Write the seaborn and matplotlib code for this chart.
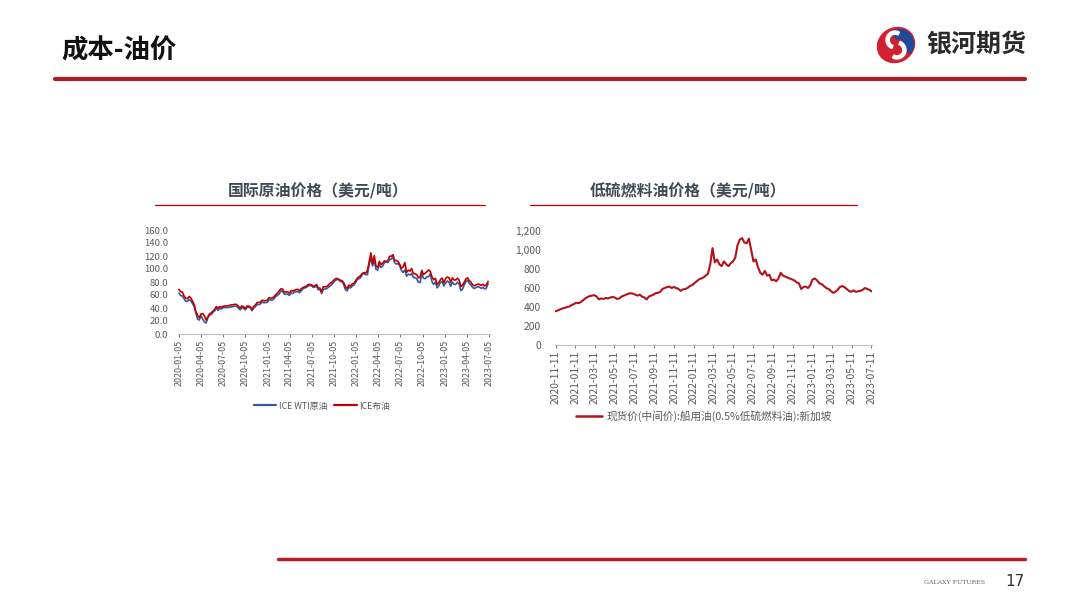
import numpy as np
import pandas as pd
import matplotlib
matplotlib.use("Agg")
import matplotlib.pyplot as plt
import seaborn as sns
from matplotlib.lines import Line2D
from matplotlib.patches import Circle, Wedge, Ellipse
from matplotlib.ticker import FuncFormatter

# ---------------- data ----------------
crude_start = "2020-01-05"
brent = [
    68.6, 65.0, 64.6, 58.3, 55.0, 54.5, 57.7, 55.5, 50.5, 45.3, 33.9, 28.5, 25.0,
    31.0, 31.5, 27.8, 21.4, 26.4, 30.9, 32.5, 35.1, 37.8, 42.3, 39.7, 42.2, 41.0,
    42.8, 43.2, 43.3, 43.3, 44.4, 44.8, 45.0, 45.8, 45.3, 42.7, 39.8, 43.2, 42.0,
    39.3, 42.9, 42.9, 41.8, 37.5, 42.4, 44.8, 48.2, 48.6, 49.3, 52.0, 51.2, 51.3,
    51.8, 55.9, 55.1, 55.4, 57.5, 60.6, 62.9, 66.1, 69.4, 69.2, 64.5, 64.6, 64.9,
    62.9, 66.8, 66.1, 67.3, 68.3, 68.7, 66.4, 69.6, 71.4, 72.7, 73.5, 76.2, 76.2,
    75.6, 73.6, 74.1, 76.3, 70.7, 70.6, 65.2, 72.7, 72.6, 72.9, 75.3, 78.1, 79.3,
    82.4, 84.9, 85.5, 84.4, 82.7, 82.2, 78.9, 72.9, 69.9, 75.2, 73.5, 76.9, 77.8,
    81.8, 86.1, 87.9, 90.0, 93.3, 94.4, 93.5, 97.9, 111.0, 125.0, 107.9, 120.7, 104.4,
    102.8, 111.7, 106.7, 109.3, 112.4, 111.6, 112.6, 119.4, 119.7, 122.0, 113.1, 113.1, 111.6,
    107.0, 101.2, 103.2, 110.0, 94.9, 98.2, 96.7, 100.9, 93.0, 92.8, 91.4, 86.2, 87.9,
    97.9, 91.6, 93.5, 95.8, 98.6, 96.0, 87.6, 83.6, 85.6, 76.1, 79.0, 83.9, 85.9,
    78.6, 85.3, 87.6, 86.7, 79.9, 86.4, 83.0, 83.2, 85.8, 82.8, 73.0, 75.0, 79.8,
    85.0, 86.3, 81.7, 79.5, 75.3, 74.2, 75.6, 76.9, 76.1, 74.8, 76.6, 73.9, 75.4, 81.0,
]
wti = [
    63.0, 59.0, 58.5, 54.2, 50.3, 50.3, 53.2, 50.8, 46.8, 41.6, 31.7, 22.6, 21.5,
    28.3, 22.8, 18.3, 17.0, 24.7, 29.4, 29.8, 33.3, 35.4, 39.6, 36.3, 39.8, 38.5,
    40.6, 40.6, 40.6, 40.9, 41.2, 41.8, 42.3, 42.9, 42.5, 39.8, 37.2, 40.3, 39.9,
    37.0, 40.6, 40.9, 40.9, 35.8, 40.1, 42.0, 45.5, 45.2, 46.3, 49.1, 48.1, 48.5,
    48.5, 52.4, 52.3, 52.2, 54.4, 57.9, 59.5, 61.5, 66.1, 65.6, 61.4, 61.0, 61.5,
    59.3, 63.1, 62.1, 64.5, 64.9, 65.4, 63.6, 66.3, 69.6, 70.9, 71.6, 73.9, 74.6,
    74.5, 71.8, 72.1, 73.9, 68.1, 68.4, 62.3, 68.7, 69.3, 69.7, 71.9, 73.9, 75.9,
    79.4, 82.3, 83.8, 83.6, 80.8, 80.8, 76.1, 68.2, 66.3, 71.7, 70.9, 73.8, 75.2,
    78.9, 83.8, 85.1, 86.8, 92.3, 93.1, 91.1, 91.6, 107.7, 115.7, 104.7, 113.9, 99.3,
    98.3, 106.9, 102.1, 104.7, 109.8, 110.5, 110.3, 114.1, 115.3, 118.9, 109.6, 107.6, 108.4,
    104.8, 97.6, 94.7, 98.6, 89.0, 92.1, 90.8, 93.1, 86.9, 86.8, 85.1, 79.5, 79.4,
    92.6, 85.6, 85.1, 87.9, 88.4, 92.6, 80.1, 76.3, 80.0, 71.0, 74.3, 79.6, 80.3,
    73.8, 78.4, 81.6, 79.7, 73.4, 80.0, 76.3, 76.3, 79.7, 76.7, 66.7, 69.3, 75.7,
    80.7, 82.5, 77.9, 74.8, 71.3, 70.0, 71.7, 72.7, 72.0, 70.2, 71.8, 69.2, 70.6, 77.5,
]
crude_ticks = ["2020-01-05", "2020-04-05", "2020-07-05", "2020-10-05", "2021-01-05",
               "2021-04-05", "2021-07-05", "2021-10-05", "2022-01-05", "2022-04-05",
               "2022-07-05", "2022-10-05", "2023-01-05", "2023-04-05", "2023-07-05"]
crude_yticks = [0, 20, 40, 60, 80, 100, 120, 140, 160]

lsfo_start = "2020-11-11"
lsfo = [
    355, 365, 375, 385, 390, 400, 405, 420,
    430, 445, 440, 450, 470, 490, 505, 515, 520, 525, 510, 480, 490, 485, 495, 490,
    500, 505, 500, 485, 490, 510, 520, 530, 540, 545, 540, 530, 520, 530, 510, 500,
    480, 510, 520, 530, 545, 550, 560, 590, 600, 610, 615, 600, 610, 600, 590, 570,
    585, 590, 600, 620,
    630, 650, 670, 690, 700, 710, 730, 750, 850, 1020, 870, 900, 850, 830, 880, 850,
    830, 860, 880, 920, 1050, 1110, 1125, 1080, 1070, 1120, 1000, 880, 900, 820, 760,
    740, 780, 730, 740, 680, 690, 670, 700, 760, 730, 720, 710, 700, 690, 680, 660,
    650, 590, 610, 615, 600,
    630, 690, 700, 680, 650, 640, 620, 600, 590, 570, 550, 560, 580, 610, 620, 610,
    590, 570, 560, 575, 560, 565, 570, 580, 600, 590, 580, 565,
]
lsfo_ticks = ["2020-11-11", "2021-01-11", "2021-03-11", "2021-05-11", "2021-07-11",
              "2021-09-11", "2021-11-11", "2022-01-11", "2022-03-11", "2022-05-11",
              "2022-07-11", "2022-09-11", "2022-11-11", "2023-01-11", "2023-03-11",
              "2023-05-11", "2023-07-11"]
lsfo_yticks = [0, 200, 400, 600, 800, 1000, 1200]

series_names = ["ICE WTI原油", "ICE布油"]
lsfo_name = "现货价(中间价):船用油(0.5%低硫燃料油):新加坡"

# ---------------- style ----------------
sns.set_theme(style="white")
plt.rcParams["font.family"] = ["Noto Sans CJK SC", "DejaVu Sans"]

BLUE = "#3b5998"
RED = "#c00000"
DRED = "#b3121b"
TICK = "#595959"
TITLE = "#404a56"

fig = plt.figure(figsize=(10.8, 6.08), dpi=100)
fig.patch.set_facecolor("white")

crude_df = pd.DataFrame({
    "date": pd.date_range(crude_start, periods=len(brent), freq="7D"),
    series_names[0]: wti,
    series_names[1]: brent,
}).melt(id_vars="date", var_name="series", value_name="price")

lsfo_df = pd.DataFrame({
    "date": pd.date_range(lsfo_start, periods=len(lsfo), freq="7D"),
    "price": lsfo,
})

# ---------------- left chart ----------------
ax1 = fig.add_axes([178 / 1080, 1 - 334 / 608, 312 / 1080, 104 / 608])
sns.lineplot(data=crude_df, x="date", y="price", hue="series",
             palette={series_names[0]: BLUE, series_names[1]: RED},
             linewidth=1.2, ax=ax1, legend=False)
ax1.set_xlim(pd.Timestamp("2020-01-01"), pd.Timestamp("2023-07-10"))
ax1.set_ylim(0, 160)
ax1.set_yticks(crude_yticks)
ax1.yaxis.set_major_formatter(FuncFormatter(lambda v, p: f"{v:.1f}"))
ct = pd.to_datetime(crude_ticks)
ax1.set_xticks(ct)
ax1.set_xticklabels(crude_ticks, rotation=90, fontsize=6.4, color=TICK)
ax1.tick_params(axis="y", labelsize=6.8, colors=TICK, length=0, pad=7)
ax1.tick_params(axis="x", colors=TICK, length=2.5, width=0.6, pad=2, direction="out", bottom=True)
ax1.set_xlabel("")
ax1.set_ylabel("")
for s in ["top", "right", "left"]:
    ax1.spines[s].set_visible(False)
ax1.spines["bottom"].set_color("#bfbfbf")
ax1.spines["bottom"].set_linewidth(0.8)
ax1.set_facecolor("white")

# ---------------- right chart ----------------
ax2 = fig.add_axes([555 / 1080, 1 - 345 / 608, 317 / 1080, 114 / 608])
sns.lineplot(data=lsfo_df, x="date", y="price", color=DRED, linewidth=1.5, ax=ax2)
ax2.set_xlim(pd.Timestamp("2020-11-09"), pd.Timestamp("2023-07-13"))
ax2.set_ylim(0, 1200)
ax2.set_yticks(lsfo_yticks)
ax2.yaxis.set_major_formatter(FuncFormatter(lambda v, p: f"{int(v):,}"))
lt = pd.to_datetime(lsfo_ticks)
ax2.set_xticks(lt)
ax2.set_xticklabels(lsfo_ticks, rotation=90, fontsize=7.4, color=TICK)
ax2.tick_params(axis="y", labelsize=7.4, colors=TICK, length=0, pad=10)
ax2.tick_params(axis="x", colors=TICK, length=2.5, width=0.6, pad=2, direction="out", bottom=True)
ax2.set_xlabel("")
ax2.set_ylabel("")
for s in ["top", "right", "left"]:
    ax2.spines[s].set_visible(False)
ax2.spines["bottom"].set_color("#bfbfbf")
ax2.spines["bottom"].set_linewidth(0.8)
ax2.set_facecolor("white")

# ---------------- legends ----------------
h1 = [Line2D([], [], color=BLUE, lw=1.6), Line2D([], [], color=RED, lw=1.6)]
fig.legend(h1, series_names, loc="center", bbox_to_anchor=(322 / 1080, 1 - 406 / 608),
           ncol=2, frameon=False, fontsize=6.3, handlelength=2.6, handletextpad=0.3,
           columnspacing=0.8, labelcolor=TICK)
h2 = [Line2D([], [], color=DRED, lw=1.8)]
fig.legend(h2, [lsfo_name], loc="center", bbox_to_anchor=(704 / 1080, 1 - 416 / 608),
           ncol=1, frameon=False, fontsize=7.7, handlelength=2.4, handletextpad=0.4,
           labelcolor=TICK)

# ---------------- titles ----------------
fig.text(318 / 1080, 1 - 191 / 608, "国际原油价格（美元/吨）", ha="center", va="center",
         fontsize=11.4, fontweight="bold", color=TITLE)
fig.text(688 / 1080, 1 - 191 / 608, "低硫燃料油价格（美元/吨）", ha="center", va="center",
         fontsize=11.4, fontweight="bold", color=TITLE)
fig.add_artist(Line2D([155 / 1080, 485 / 1080], [1 - 205 / 608] * 2, color=RED, lw=0.9))
fig.add_artist(Line2D([530 / 1080, 857 / 1080], [1 - 205 / 608] * 2, color=RED, lw=0.9))

# ---------------- header / footer ----------------
fig.text(61 / 1080, 1 - 51 / 608, "成本-油价", ha="left", va="center",
         fontsize=19, fontweight="bold", color="#111111")
fig.add_artist(Line2D([55 / 1080, 1025 / 1080], [1 - 79 / 608] * 2, color="#b01e23", lw=3.0))
fig.text(1026 / 1080, 1 - 45 / 608, "银河期货", ha="right", va="center",
         fontsize=18, fontweight="bold", color="#2a2a2a")

# logo icon
lax = fig.add_axes([874 / 1080, 1 - 65 / 608, 44 / 1080, 40 / 608])
lax.set_xlim(-1.1, 1.1)
lax.set_ylim(-1.0, 1.0)
lax.set_aspect("equal")
lax.axis("off")
lax.add_patch(Ellipse((0, 0), 1.9, 1.7, angle=30, color="#d2202f"))
lax.add_patch(Wedge((0.15, 0.05), 0.72, -40, 120, width=0.45, color="#1f4a9a"))
lax.add_patch(Wedge((-0.05, 0.25), 0.45, 60, 250, width=0.16, color="white"))
lax.add_patch(Wedge((0.05, -0.25), 0.45, 240, 70, width=0.16, color="white"))

fig.add_artist(Line2D([278 / 1080, 1025 / 1080], [1 - 559 / 608] * 2, color="#b01e23", lw=2.5))
fig.text(955 / 1080, 1 - 582 / 608, "GALAXY FUTURES", ha="center", va="center",
         fontsize=4.5, color="#666666", family="DejaVu Serif")
fig.text(1015 / 1080, 1 - 581 / 608, "17", ha="center", va="center",
         fontsize=11, color="#333333", family="DejaVu Sans")

fig.savefig("out.png", dpi=100, facecolor="white")
